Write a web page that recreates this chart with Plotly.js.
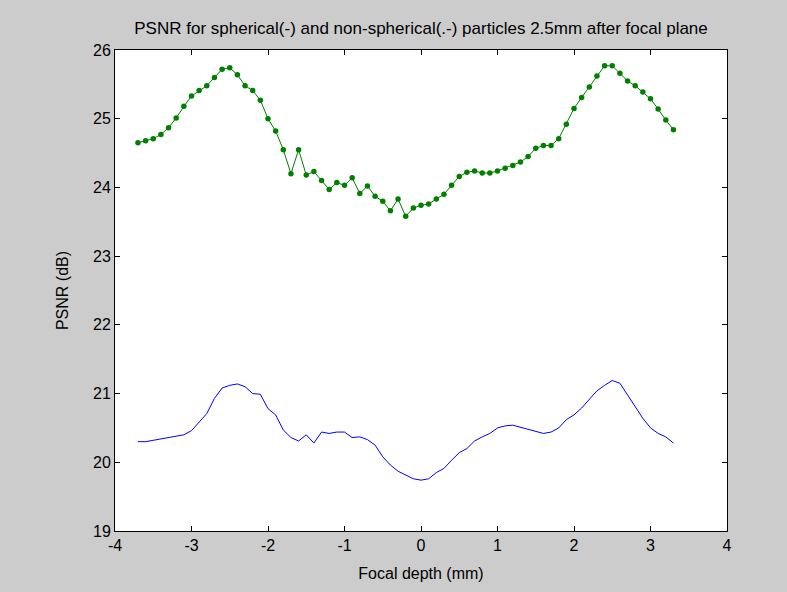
<!DOCTYPE html>
<html>
<head>
<meta charset="utf-8">
<script src="https://cdn.plot.ly/plotly-3.0.1.min.js"></script>
<style>html,body{margin:0;padding:0;background:#cccccc;}#chart{width:787px;height:592px;}</style>
</head>
<body>
<div id="chart"></div>
<script>
const focalDepth = [-3.7,-3.6,-3.5,-3.4,-3.3,-3.2,-3.1,-3.0,-2.9,-2.8,-2.7,-2.6,-2.5,-2.4,-2.3,-2.2,-2.1,-2.0,-1.9,-1.8,-1.7,-1.6,-1.5,-1.4,-1.3,-1.2,-1.1,-1.0,-0.9,-0.8,-0.7,-0.6,-0.5,-0.4,-0.3,-0.2,-0.1,0.0,0.1,0.2,0.3,0.4,0.5,0.6,0.7,0.8,0.9,1.0,1.1,1.2,1.3,1.4,1.5,1.6,1.7,1.8,1.9,2.0,2.1,2.2,2.3,2.4,2.5,2.6,2.7,2.8,2.9,3.0,3.1,3.2,3.3];

const psnrNonSpherical = [24.65,24.68,24.71,24.77,24.87,25.01,25.18,25.33,25.41,25.48,25.60,25.72,25.74,25.64,25.48,25.41,25.27,25.00,24.82,24.55,24.20,24.55,24.18,24.23,24.10,23.97,24.07,24.03,24.14,23.91,24.02,23.87,23.80,23.66,23.83,23.58,23.70,23.74,23.76,23.83,23.90,24.03,24.16,24.22,24.24,24.21,24.21,24.24,24.28,24.32,24.37,24.45,24.57,24.61,24.61,24.71,24.92,25.15,25.31,25.46,25.62,25.77,25.77,25.66,25.55,25.48,25.39,25.29,25.14,24.98,24.84];

const psnrSpherical = [20.30,20.30,20.32,20.34,20.37,20.39,20.40,20.46,20.59,20.71,20.93,21.08,21.12,21.14,21.10,21.00,20.99,20.78,20.69,20.47,20.36,20.31,20.40,20.28,20.44,20.42,20.44,20.44,20.36,20.37,20.33,20.25,20.08,19.96,19.87,19.81,19.76,19.74,19.76,19.85,19.91,20.03,20.14,20.20,20.31,20.37,20.42,20.50,20.53,20.54,20.51,20.47,20.44,20.42,20.44,20.50,20.62,20.69,20.79,20.91,21.04,21.12,21.19,21.15,20.98,20.81,20.64,20.50,20.42,20.37,20.28];

const xTicks = [-4,-3,-2,-1,0,1,2,3,4];
const yTicks = [19,20,21,22,23,24,25,26];

const FONT = 'Liberation Sans, Arial, sans-serif';

const traces = [
  {x: focalDepth, y: psnrSpherical, mode: 'lines', type: 'scatter',
   line: {color: '#0000ff', width: 1}, name: 'spherical'},
  {x: focalDepth, y: psnrNonSpherical, mode: 'lines+markers', type: 'scatter',
   line: {color: '#008000', width: 1}, marker: {color: '#008000', size: 5.5}, name: 'non-spherical'}
];

const axisCommon = {
  showline: true, linecolor: '#000', linewidth: 1, mirror: 'ticks',
  ticks: 'inside', ticklen: 5, tickcolor: '#000', tickwidth: 1,
  showgrid: false, zeroline: false,
  tickfont: {family: FONT, size: 16, color: '#000'}
};

const layout = {
  width: 787, height: 592,
  paper_bgcolor: '#cccccc', plot_bgcolor: '#ffffff',
  margin: {l: 115, r: 60, t: 50, b: 61},
  showlegend: false,
  title: {text: 'PSNR for spherical(-) and non-spherical(.-) particles 2.5mm after focal plane',
          font: {family: FONT, size: 17, color: '#000'}, x: 0.535, xanchor: 'center', y: 0.953, yanchor: 'middle'},
  xaxis: Object.assign({}, axisCommon, {
    range: [-4, 4], tickvals: xTicks, ticktext: xTicks.map(String),
    title: {text: 'Focal depth (mm)', font: {family: FONT, size: 16, color: '#000'}, standoff: 14}
  }),
  yaxis: Object.assign({}, axisCommon, {
    range: [19, 26], tickvals: yTicks, ticktext: yTicks.map(String),
    title: {text: 'PSNR (dB)', font: {family: FONT, size: 16, color: '#000'}, standoff: 20}
  })
};

Plotly.newPlot('chart', traces, layout, {staticPlot: true, displayModeBar: false});
</script>
</body>
</html>
